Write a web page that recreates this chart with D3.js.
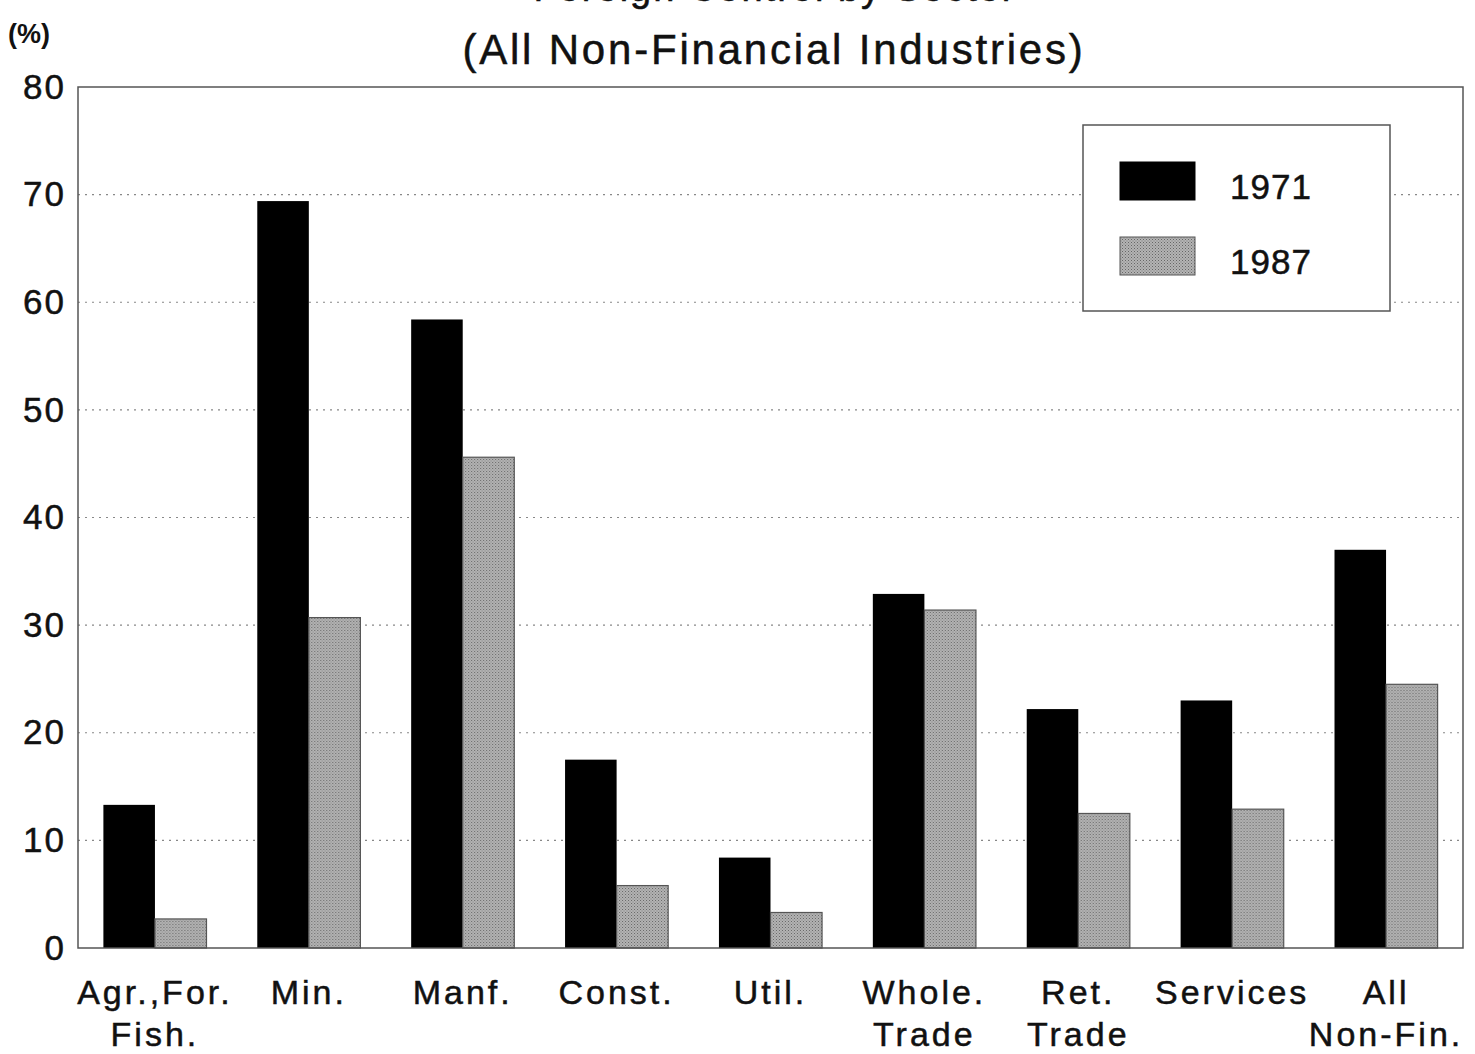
<!DOCTYPE html>
<html lang="en">
<head>
  <meta charset="UTF-8">
  <script src="https://d3js.org/d3.v7.min.js"></script>
  <title>Foreign Control by Sector</title>
  <style>
    body { margin: 0; background: #fff; }
    svg { display: block; }
    text { font-family: "Liberation Sans", Arial, sans-serif; fill: #111; stroke: #111; stroke-width: 0.5px; }
    .grid line { stroke: #888; stroke-width: 1.2px; stroke-dasharray: 2, 5; }
  </style>
</head>
<body>
<div id="chart"></div>
<script>
  // data
  const sectors = [
    ["Agr.,For.", "Fish."],
    ["Min."],
    ["Manf."],
    ["Const."],
    ["Util."],
    ["Whole.", "Trade"],
    ["Ret.", "Trade"],
    ["Services"],
    ["All", "Non-Fin."]
  ];
  const years = ["1971", "1987"];
  const values1971 = [13.3, 69.4, 58.4, 17.5, 8.4, 32.9, 22.2, 23.0, 37.0];
  const values1987 = [2.7, 30.7, 45.6, 5.8, 3.3, 31.4, 12.5, 12.9, 24.5];
  const yTicks = [0, 10, 20, 30, 40, 50, 60, 70, 80];

  const width = 1475, height = 1054;
  const margin = { top: 87, right: 12, bottom: 106, left: 78 };
  const innerW = width - margin.left - margin.right;
  const innerH = height - margin.top - margin.bottom;

  const svg = d3.select("#chart").append("svg")
    .attr("width", width)
    .attr("height", height);

  // stippled grey fill for 1987
  const pat = svg.append("defs").append("pattern")
    .attr("id", "stipple")
    .attr("width", 3).attr("height", 3)
    .attr("patternUnits", "userSpaceOnUse");
  pat.append("rect").attr("width", 3).attr("height", 3).attr("fill", "#b4b4b4");
  pat.append("rect").attr("width", 1).attr("height", 1).attr("fill", "#666");
  pat.append("rect").attr("x", 1.5).attr("y", 1.5).attr("width", 1).attr("height", 1).attr("fill", "#7a7a7a");

  // title (top line is cut off in the original)
  svg.append("text")
    .attr("x", 775).attr("y", 1)
    .attr("text-anchor", "middle")
    .style("font-size", "38px")
    .style("letter-spacing", "2px")
    .text("Foreign Control by Sector");

  svg.append("text")
    .attr("x", 774).attr("y", 64)
    .attr("text-anchor", "middle")
    .style("font-size", "42px")
    .style("letter-spacing", "2.8px")
    .text("(All Non-Financial Industries)");

  svg.append("text")
    .attr("x", 8).attr("y", 43)
    .style("font-size", "27px")
    .style("font-weight", "bold")
    .style("stroke-width", "0")
    .text("(%)");

  const g = svg.append("g").attr("transform", `translate(${margin.left},${margin.top})`);

  const x0 = d3.scaleBand()
    .domain(d3.range(sectors.length))
    .range([0, innerW])
    .paddingInner(0.33)
    .paddingOuter(0.165);

  const x1 = d3.scaleBand()
    .domain(years)
    .range([0, x0.bandwidth()]);

  const y = d3.scaleLinear()
    .domain([0, 80])
    .range([innerH, 0]);

  // dotted grid
  g.append("g").attr("class", "grid")
    .selectAll("line")
    .data(yTicks.filter(d => d > 0 && d < 80))
    .join("line")
    .attr("x1", 0).attr("x2", innerW)
    .attr("y1", d => y(d)).attr("y2", d => y(d));

  // y tick labels
  const yAxis = g.append("g")
    .call(d3.axisLeft(y).tickValues(yTicks).tickSize(0).tickPadding(12));
  yAxis.select(".domain").remove();
  yAxis.selectAll("text")
    .style("font-size", "35px")
    .style("letter-spacing", "2px")
    .style("font-family", "'Liberation Sans', Arial, sans-serif")
    .attr("fill", "#111");

  // bars
  const groups = g.append("g")
    .selectAll("g")
    .data(sectors.map((s, i) => i))
    .join("g")
    .attr("transform", i => `translate(${x0(i)},0)`);

  groups.append("rect")
    .attr("x", x1("1971"))
    .attr("width", x1.bandwidth())
    .attr("y", i => y(values1971[i]))
    .attr("height", i => innerH - y(values1971[i]))
    .attr("fill", "#000");

  groups.append("rect")
    .attr("x", x1("1987"))
    .attr("width", x1.bandwidth())
    .attr("y", i => y(values1987[i]))
    .attr("height", i => innerH - y(values1987[i]))
    .attr("fill", "url(#stipple)")
    .attr("stroke", "#555")
    .attr("stroke-width", 1.2);

  // plot frame
  g.append("rect")
    .attr("width", innerW).attr("height", innerH)
    .attr("fill", "none")
    .attr("stroke", "#555")
    .attr("stroke-width", 1.5);

  // x labels
  const xl = g.append("g")
    .selectAll("text")
    .data(sectors.map((s, i) => i))
    .join("text")
    .attr("text-anchor", "middle")
    .attr("transform", i => `translate(${x0(i) + x0.bandwidth() / 2},${innerH})`)
    .style("font-size", "34px")
    .style("letter-spacing", "3px");
  xl.selectAll("tspan")
    .data(i => sectors[i])
    .join("tspan")
    .attr("x", 0)
    .attr("y", (d, j) => 56 + j * 42)
    .text(d => d);

  // legend
  const legend = svg.append("g").attr("transform", "translate(1083,125)");
  legend.append("rect")
    .attr("width", 307).attr("height", 186)
    .attr("fill", "#fff")
    .attr("stroke", "#555")
    .attr("stroke-width", 1.5);
  const fills = ["#000", "url(#stipple)"];
  years.forEach((yr, k) => {
    legend.append("rect")
      .attr("x", 37).attr("y", 37 + k * 75)
      .attr("width", 75).attr("height", 38)
      .attr("fill", fills[k])
      .attr("stroke", k ? "#555" : "#000")
      .attr("stroke-width", 1);
    legend.append("text")
      .attr("x", 147).attr("y", 74 + k * 75)
      .style("font-size", "35px")
      .style("letter-spacing", "1px")
      .text(yr);
  });
</script>
</body>
</html>
